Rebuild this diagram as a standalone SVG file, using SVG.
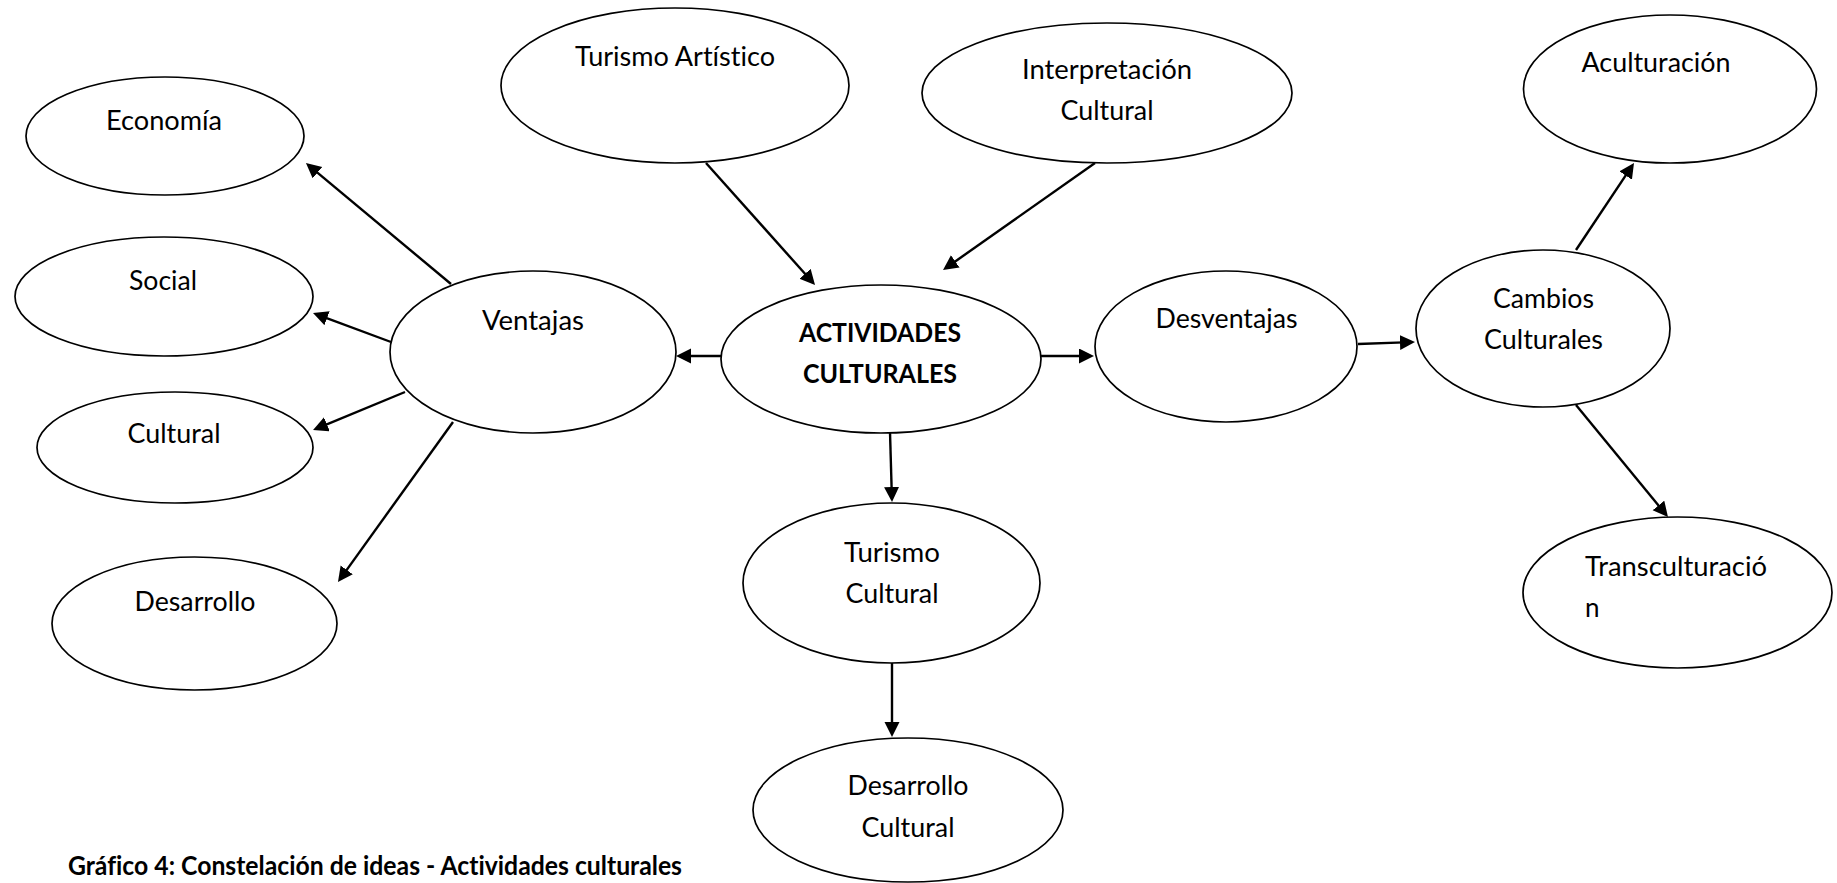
<svg xmlns="http://www.w3.org/2000/svg" width="1837" height="883" viewBox="0 0 1837 883">
<style>
.n ellipse{fill:#fff;stroke:#000;stroke-width:1.7}
text{font-family:Lato,"Liberation Sans",sans-serif;font-size:26px;fill:#000;font-variant-ligatures:none;font-feature-settings:"liga" 0,"clig" 0}
.c{text-anchor:middle}
.b{font-weight:bold}
.e line{stroke:#000;stroke-width:2.4;fill:none;marker-end:url(#ah)}
</style>
<defs>
<marker id="ah" markerUnits="userSpaceOnUse" markerWidth="16" markerHeight="16" refX="4" refY="7.5" orient="auto">
<path d="M0,0 L15,7.5 L0,15 z" fill="#000"/>
</marker>
</defs>
<rect width="1837" height="883" fill="#fff"/>
<g id="connectors" class="e">
<line x1="706" y1="163" x2="807.7" y2="276.8"/>
<line x1="1095" y1="163" x2="952" y2="263.7"/>
<line x1="722" y1="356" x2="687" y2="356"/>
<line x1="1041" y1="356" x2="1083" y2="356"/>
<line x1="890" y1="432" x2="891.7" y2="491"/>
<line x1="892" y1="663" x2="892" y2="726"/>
<line x1="451" y1="284" x2="314.4" y2="170.1"/>
<line x1="391" y1="342" x2="323.3" y2="316.8"/>
<line x1="405" y1="392" x2="323.2" y2="425.8"/>
<line x1="453" y1="422" x2="344.4" y2="573.1"/>
<line x1="1358" y1="344" x2="1404" y2="342.4"/>
<line x1="1576" y1="250" x2="1627.9" y2="172.2"/>
<line x1="1576" y1="405" x2="1661" y2="508.5"/>
</g>
<g id="economia" class="n"><ellipse cx="165" cy="136" rx="139" ry="59"/><text class="c" x="164" y="130" textLength="116" lengthAdjust="spacingAndGlyphs">Economía</text></g>
<g id="social" class="n"><ellipse cx="164" cy="296.5" rx="149" ry="59.5"/><text class="c" x="163" y="290" textLength="68" lengthAdjust="spacingAndGlyphs">Social</text></g>
<g id="cultural" class="n"><ellipse cx="175" cy="447.5" rx="138" ry="55.5"/><text class="c" x="174" y="443" textLength="93" lengthAdjust="spacingAndGlyphs">Cultural</text></g>
<g id="desarrollo" class="n"><ellipse cx="194.5" cy="623.5" rx="142.5" ry="66.5"/><text class="c" x="195" y="611" textLength="121" lengthAdjust="spacingAndGlyphs">Desarrollo</text></g>
<g id="ventajas" class="n"><ellipse cx="533" cy="352" rx="143" ry="81"/><text class="c" x="533" y="330" textLength="102" lengthAdjust="spacingAndGlyphs">Ventajas</text></g>
<g id="turismo-artistico" class="n"><ellipse cx="675" cy="85.5" rx="174" ry="77.5"/><text class="c" x="675" y="66" textLength="200" lengthAdjust="spacingAndGlyphs">Turismo Artístico</text></g>
<g id="interpretacion-cultural" class="n"><ellipse cx="1107" cy="93" rx="185" ry="70"/><text class="c" x="1107" y="79" textLength="170" lengthAdjust="spacingAndGlyphs">Interpretación</text><text class="c" x="1107" y="120" textLength="93" lengthAdjust="spacingAndGlyphs">Cultural</text></g>
<g id="actividades-culturales" class="n"><ellipse cx="881" cy="359" rx="160" ry="74"/><text class="c b" x="880" y="342" textLength="162" lengthAdjust="spacingAndGlyphs">ACTIVIDADES</text><text class="c b" x="880" y="383" textLength="154" lengthAdjust="spacingAndGlyphs">CULTURALES</text></g>
<g id="desventajas" class="n"><ellipse cx="1226" cy="346.5" rx="131" ry="75.5"/><text class="c" x="1226.5" y="328" textLength="142" lengthAdjust="spacingAndGlyphs">Desventajas</text></g>
<g id="cambios-culturales" class="n"><ellipse cx="1543" cy="328.5" rx="127" ry="78.5"/><text class="c" x="1543.5" y="308" textLength="101" lengthAdjust="spacingAndGlyphs">Cambios</text><text class="c" x="1543.5" y="349" textLength="119" lengthAdjust="spacingAndGlyphs">Culturales</text></g>
<g id="aculturacion" class="n"><ellipse cx="1670" cy="89" rx="146.5" ry="74"/><text class="c" x="1656" y="72" textLength="149" lengthAdjust="spacingAndGlyphs">Aculturación</text></g>
<g id="transculturacion" class="n"><ellipse cx="1677.5" cy="592.5" rx="154.5" ry="75.5"/><text x="1585" y="576" textLength="182" lengthAdjust="spacingAndGlyphs">Transculturació</text><text x="1585" y="617">n</text></g>
<g id="turismo-cultural" class="n"><ellipse cx="891.5" cy="583" rx="148.5" ry="80"/><text class="c" x="892" y="562" textLength="96" lengthAdjust="spacingAndGlyphs">Turismo</text><text class="c" x="892" y="603" textLength="93" lengthAdjust="spacingAndGlyphs">Cultural</text></g>
<g id="desarrollo-cultural" class="n"><ellipse cx="908" cy="810" rx="155" ry="72"/><text class="c" x="908" y="795" textLength="121" lengthAdjust="spacingAndGlyphs">Desarrollo</text><text class="c" x="908" y="837" textLength="93" lengthAdjust="spacingAndGlyphs">Cultural</text></g>
<text id="caption" class="b" x="68" y="875" font-size="24" textLength="614" lengthAdjust="spacingAndGlyphs">Gráfico 4: Constelación de ideas - Actividades culturales</text>
</svg>
